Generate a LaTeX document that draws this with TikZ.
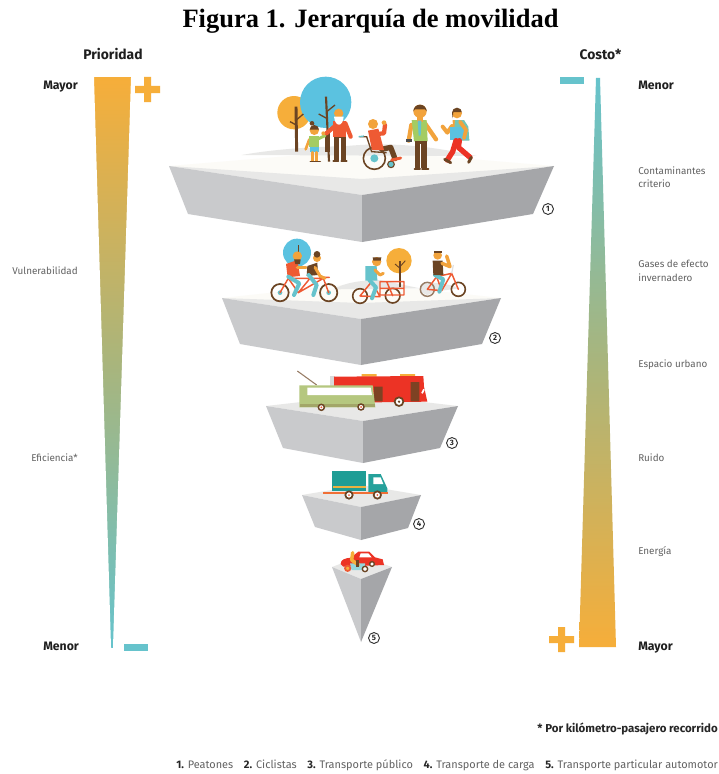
\documentclass[tikz,border=0pt]{standalone}
\usepackage{fontspec}
\setmainfont{Liberation Serif}
\newfontfamily\lab{Fira Sans}
\usetikzlibrary{calc}
\definecolor{grL}{HTML}{C9CACC}
\definecolor{grR}{HTML}{A5A6A9}
\definecolor{grB}{HTML}{E8E8E7}
\definecolor{topc}{HTML}{FCFBF7}
\definecolor{oran}{HTML}{F6AE3A}
\definecolor{teal}{HTML}{66C3CC}
\definecolor{mid}{HTML}{A9B57C}
\definecolor{sky}{HTML}{5BC2E0}
\definecolor{brn}{HTML}{6B4423}
\definecolor{redo}{HTML}{EE5A33}
\definecolor{redb}{HTML}{EC3325}
\definecolor{lime}{HTML}{A4CC62}
\definecolor{skin}{HTML}{F2A33C}
\definecolor{txt}{HTML}{626262}
\definecolor{olive}{HTML}{B5C77F}
\definecolor{truck}{HTML}{1E9D95}
\tikzset{
  px/.style={x=0.75pt,y=-0.75pt},
  z1/.style={shift={(160,70)},x=0.25pt,y=-0.25pt},
  z2/.style={shift={(220,230)},x=0.25pt,y=-0.25pt},
  z3/.style={shift={(290,460)},x=0.25pt,y=-0.25pt},
  heading/.style={font=\lab\bfseries\fontsize{9.2}{10}\selectfont,text=black!88,inner sep=0pt},
  bighead/.style={heading,font=\lab\bfseries\fontsize{10.4}{11}\selectfont},
  rowlabel/.style={font=\lab\fontsize{7.4}{10}\selectfont,text=txt,inner sep=0pt},
  num/.style={circle,draw=black!80,line width=.7pt,inner sep=0pt,minimum size=8.2pt,font=\lab\bfseries\fontsize{5.8}{6}\selectfont,text=black!85},
  limb/.style={line width=#1,line cap=round,line join=round},
  limb/.default=1.6pt,
  wheel/.style={draw=brn,line width=1.2pt},
  frame/.style={draw=redo,line width=1.1pt,line cap=round,line join=round},
}
\newcommand{\slab}[7]{%
  \fill[topc] (#1) -- (#7) -- (#6) -- (#3) -- cycle;
  \fill[grB] (#1) -- (#3) -- (#6) -- ($(#3)+(0,-16)$) -- cycle;
  \fill[grL] (#1) -- (#3) -- (#4) -- (#2) -- cycle;
  \fill[grR] (#6) -- (#3) -- (#4) -- (#5) -- cycle;
}
\begin{document}
\begin{tikzpicture}[px]
\useasboundingbox (0,0) rectangle (718,774);
\fill[white] (0,0) rectangle (718,774);

\node[font=\bfseries\fontsize{19.85}{22}\selectfont,inner sep=0pt,anchor=center] (title) at (370.5,21) {Figura 1. Jerarquía de movilidad};

% gradient wedges
\shade[top color=oran,bottom color=teal,middle color=mid] (93,78) rectangle (132,647);
\fill[white] (88,74) -- (94,74) -- (94,78) -- (111,647) -- (111,652) -- (88,652) -- cycle;
\fill[white] (137,74) -- (131,74) -- (131,78) -- (113,647) -- (113,652) -- (137,652) -- cycle;
\shade[top color=teal,bottom color=oran,middle color=mid] (596,78) -- (600,78) -- (616,647) -- (579,647) -- cycle;
% plus and minus signs
\fill[oran] (135,86) rectangle (160,93) (144,77) rectangle (151,102);
\fill[teal] (124,644) rectangle (148,651);
\fill[teal] (560,77) rectangle (584,84);
\fill[oran] (549,636) rectangle (574,643) (558,627) rectangle (565,652);

% headings
\node[bighead] (hp) at (113,54) {Prioridad};
\node[bighead] (hc) at (600.5,54) {Costo*};
\node[heading,anchor=west] (lma) at (43,86.5) {Mayor};
\node[heading,anchor=west] (lme) at (43,646) {Menor};
\node[heading,anchor=west] (rme) at (638,85) {Menor};
\node[heading,anchor=west] (rma) at (638,647.5) {Mayor};
\node[rowlabel,anchor=east] (vu) at (78,271) {Vulnerabilidad};
\node[rowlabel,anchor=east] (ef) at (78,458) {Eficiencia*};
\node[rowlabel,anchor=west,align=left] (cc) at (638,177.5) {Contaminantes\\criterio};
\node[rowlabel,anchor=west,align=left] (ge) at (638,271) {Gases de efecto\\invernadero};
\node[rowlabel,anchor=west] (eu) at (638,365) {Espacio urbano};
\node[rowlabel,anchor=west] (ru) at (638,458) {Ruido};
\node[rowlabel,anchor=west] (en) at (638,552) {Energía};

% slabs
\slab{169,166}{188,214}{362,195}{362,242}{533,214}{554,166}{362,150}
\slab{222,298}{240,344}{361,319}{361,365}{482,344}{501,298}{361,283}
\fill[grB] (266,406) -- (363,395) -- (458,406) -- (363,421) -- cycle;
\fill[grL] (266,406) -- (363,421) -- (363,463) -- (283,448) -- cycle;
\fill[grR] (458,406) -- (363,421) -- (363,463) -- (440,448) -- cycle;
\fill[grB] (302,495) -- (361,485) -- (421,495) -- (361,507) -- cycle;
\fill[grL] (302,495) -- (361,507) -- (361,540) -- (315,527) -- cycle;
\fill[grR] (421,495) -- (361,507) -- (361,540) -- (408,528) -- cycle;
\fill[grB] (332,567) -- (361,556) -- (392,567) -- (361,579) -- cycle;
\fill[grL] (332,567) -- (361,579) -- (361,642) -- cycle;
\fill[grR] (392,567) -- (361,579) -- (361,642) -- cycle;

\node[num] (n1) at (548,209) {1};
\node[num] (n2) at (495,338) {2};
\node[num] (n3) at (452,443) {3};
\node[num] (n4) at (419,524) {4};
\node[num] (n5) at (374,638) {5};

% ---------- scene 1: pedestrians
\begin{scope}[z1]
\fill[grB] (245,255) .. controls (330,240) and (420,232) .. (560,228) .. controls (700,215) and (820,230) .. (950,258) -- cycle;
\fill[oran] (402,128) circle (50);
\fill[sky] (497,97) circle (77);
% trees
\draw[brn,line width=2.2pt] (410,245) -- (408,110);
\draw[brn,line width=1pt] (409,165) -- (390,155) (409,150) -- (430,132);
\draw[brn,line width=1.6pt] (507,275) -- (498,80);
\draw[brn,line width=1pt] (500,145) -- (476,132) (500,125) -- (525,105);
\fill[brn] (494,190) -- (511,190) -- (511,245) -- (494,245) -- cycle;
% girl
\draw[limb=2.2pt,lime] (472,208) -- (495,197);
\draw[limb=2pt,skin] (448,208) -- (437,238);
\fill[lime] (448,199) -- (476,199) -- (476,232) -- (448,232) -- cycle;
\fill[sky] (450,230) rectangle (476,247);
\draw[limb=2pt,skin] (457,247) -- (457,272) (470,247) -- (470,272);
\draw[limb=1.2pt,brn] (451,275) -- (464,275) (467,275) -- (481,275);
\fill[skin] (463,181) circle (14);
\fill[brn] (449,179) arc (180:360:14) -- cycle;
\fill[brn] (456,160) circle (7);
% old man
\draw[limb=3.2pt,redo] (525,168) -- (499,190);
\draw[limb=3.2pt,redo] (556,160) -- (572,200);
\fill[skin] (490,190) circle (6);
\fill[brn] (522,195) rectangle (557,272);
\fill[white] (538,205) rectangle (542,272);
\draw[limb=1.3pt,brn] (520,274) -- (535,274) (544,274) -- (560,274);
\fill[redo] (518,153) -- (558,153) -- (558,200) -- (518,200) -- cycle;
\fill[skin] (536,130) circle (14);
\fill[white] (522,140) .. controls (525,172) and (549,172) .. (551,140) -- cycle;
% wheelchair
\draw[brn,line width=1pt] (598,200) -- (620,200) -- (635,245) -- (680,248);
\draw[teal,line width=.9pt] (596,200) -- (612,198);
\draw[wheel] (643,265) circle (33);
\fill[teal] (643,265) circle (12);
\draw[brn,line width=.8pt,fill=teal] (693,283) circle (10);
\draw[limb=4pt,brn] (665,238) -- (692,232) -- (705,266);
\draw[limb=2.2pt,redo] (695,270) -- (722,264);
\fill[redo] (624,182) -- (655,176) -- (672,240) -- (636,240) -- cycle;
\draw[limb=3.2pt,redo] (650,192) -- (672,190) -- (675,165);
\fill[skin] (672,158) circle (7);
\fill[skin] (639,162) circle (15);
% man
\draw[limb=3.2pt,skin] (754,165) -- (746,212);
\draw[limb=3.2pt,skin] (795,160) -- (828,208);
\fill[black!70] (738,207) rectangle (755,215);
\fill[lime] (755,150) -- (800,150) -- (803,214) -- (762,214) -- cycle;
\fill[skin] (770,140) rectangle (790,155);
\fill[teal] (773,152) -- (784,152) -- (782,197) -- (776,197) -- cycle;
\fill[brn] (764,212) rectangle (801,295);
\fill[white] (780,222) rectangle (784,295);
\draw[limb=1.5pt,brn] (764,298) -- (780,298) (786,298) -- (805,298);
\fill[skin] (780,124) circle (20);
\fill[brn] (760,124) arc (180:360:20) -- (795,118) -- (765,118) -- cycle;
% walker
\draw[limb=3pt,skin] (876,168) -- (862,188) -- (848,170);
\fill[skin] (878,150) -- (912,150) -- (928,210) -- (880,210) -- cycle;
\fill[teal!80!lime] (885,150) -- (912,150) -- (925,170) -- (928,212) -- (880,212) -- cycle;
\fill[sky] (870,170) rectangle (922,210);
\draw[limb=2.8pt,skin] (900,155) -- (918,180) -- (912,205);
\draw[limb=4pt,redb] (888,212) -- (878,245) -- (862,270);
\draw[limb=4pt,redb] (898,212) -- (895,232) -- (930,262);
\draw[limb=2.2pt,brn] (854,268) -- (872,278);
\draw[limb=2.2pt,brn] (934,262) -- (926,277);
\fill[skin] (891,130) circle (15);
\fill[brn] (876,128) arc (180:360:15) -- (905,126) -- (880,126) -- (878,145) -- cycle;
\end{scope}

% ---------- scene 2: cyclists
\begin{scope}[z2]
\fill[grB] (340,178) .. controls (370,160) and (420,150) .. (480,150) -- (600,175) -- cycle;
\fill[grB] (600,165) .. controls (640,152) and (680,160) .. (720,175) -- (600,190) -- cycle;
\fill[sky] (231,68) circle (42);
\draw[brn,line width=.6pt] (236,45) -- (236,100);
\fill[oran] (537,92) circle (38);
\draw[brn,line width=1.4pt] (540,170) -- (540,92);
\draw[brn,line width=.7pt] (540,115) -- (525,102) (540,110) -- (556,92);
% tandem
\draw[wheel,line width=1.3pt] (180,188) circle (26);
\draw[wheel,line width=1.3pt] (326,188) circle (26);
\fill[teal] (180,188) circle (7) (326,188) circle (7);
\draw[frame] (180,188) -- (205,145) -- (310,145) -- (326,188) (205,145) -- (235,188) -- (270,145) (235,188) -- (310,145) (300,142) -- (328,142);
% riders
\fill[redo] (198,102) -- (232,90) -- (240,138) -- (203,142) -- cycle;
\draw[limb=3pt,teal] (205,140) -- (238,160) -- (222,195);
\fill[skin] (232,78) circle (14);
\fill[brn] (222,88) -- (242,88) -- (240,102) -- (226,102) -- cycle;
\draw[limb=2.4pt,skin] (232,112) -- (258,112);
\fill[brn] (262,108) -- (292,98) -- (294,135) -- (260,138) -- cycle;
\draw[limb=3pt,teal] (266,135) -- (290,165) -- (280,195);
\fill[skin] (291,84) circle (12);
\fill[brn] (291,73) circle (10);
\draw[limb=2.2pt,skin] (285,112) -- (300,138) -- (315,145);
% cargo bike
\draw[wheel] (420,198) circle (22);
\draw[wheel] (518,197) circle (22);
\draw[frame] (420,198) -- (455,155) -- (480,200) -- (420,198) (480,155) rectangle (552,195) (480,175) -- (552,175) (518,197) -- (500,155);
\draw[limb=3pt,teal] (448,150) -- (468,172) -- (456,205);
\fill[teal] (436,108) -- (470,108) -- (472,152) -- (436,152) -- cycle;
\draw[limb=2.2pt,skin] (465,120) -- (480,135) -- (490,130);
\fill[skin] (470,95) circle (14);
\fill[brn] (458,82) -- (484,82) -- (482,92) -- (460,92) -- cycle;
% third bike
\draw[line width=1.1pt,draw=brn!70] (622,178) circle (21);
\draw[wheel] (715,178) circle (21);
\fill[grB] (622,178) circle (17);
\draw[frame] (622,178) -- (650,140) -- (695,130) -- (715,178) (650,140) -- (665,182) -- (695,130) (622,178) -- (665,182);
\draw[line width=.9pt,draw=black!12] (695,130) -- (700,105);
\draw[limb=3pt,teal] (645,135) -- (670,148) -- (658,185);
\fill[brn] (638,92) -- (668,92) -- (670,135) -- (640,135) -- cycle;
\fill[skin] (653,76) circle (13);
\fill[brn] (641,62) rectangle (666,70);
\draw[limb=2.6pt,skin] (666,100) -- (690,110) -- (680,78);
\end{scope}

% ---------- scene 3: buses
\begin{scope}[z2]
\fill[oran] (425,432) rectangle (470,440) (540,432) rectangle (585,440);
\fill[black!15] (330,438) rectangle (345,470);
\fill[redb] (342,440) -- (610,438) -- (612,470) -- (622,515) -- (465,517) -- (342,470) -- cycle;
\fill[brn!85!redb] (462,470) rectangle (488,514) (572,456) rectangle (598,514);
\draw[white,line width=1.4pt] (612,478) -- (606,490);
\draw[brn,line width=1.3pt,fill=white] (537,515) circle (13);
\fill[brn] (537,515) circle (4);
\draw[brn!70,line width=.8pt] (232,423) -- (290,465);
\fill[olive] (238,466) -- (458,466) -- (466,532) -- (238,532) -- cycle;
\fill[white] (262,473) -- (452,473) -- (456,495) -- (262,495) -- cycle;
\fill[olive!75!brn] (240,523) rectangle (466,532);
\draw[brn,line width=1.1pt,fill=white] (304,532) circle (9);
\fill[redo] (304,532) circle (3);
\draw[brn,line width=1.1pt,fill=white] (423,531) circle (9);
\fill[redo] (423,531) circle (3);
\end{scope}

% ---------- scene 4: truck
\begin{scope}[z3]
\fill[truck] (125,32) rectangle (228,92);
\fill[oran!85!lime] (128,79) rectangle (228,85);
\fill[truck!90!teal] (235,42) -- (272,42) -- (292,85) -- (292,97) -- (235,97) -- cycle;
\fill[white] (250,52) -- (272,52) -- (280,72) -- (250,72) -- cycle;
\fill[redo!75!oran] (100,95) rectangle (294,103);
\draw[brn,line width=1.3pt,fill=white] (177,105) circle (11);
\fill[redo] (177,105) circle (3);
\draw[brn,line width=1.3pt,fill=white] (262,105) circle (11);
\fill[redo] (262,105) circle (3);
\end{scope}

% ---------- scene 5: car and motorbike
\begin{scope}[z3]
\fill[redb] (152,312) .. controls (152,298) and (165,295) .. (182,293) -- (205,275) -- (238,275) -- (255,292) -- (278,298) -- (282,315) -- (160,320) -- cycle;
\fill[white] (212,280) -- (235,280) -- (245,292) -- (208,292) -- cycle;
\draw[brn,line width=1pt,fill=white] (246,312) circle (7);
\fill[teal!70] (180,310) -- (225,310) -- (225,330) -- (185,330) -- cycle;
\draw[limb=2.6pt,oran] (188,278) -- (185,300) -- (205,315);
\fill[brn] (198,300) rectangle (206,320);
\draw[redo,line width=1.3pt,fill=oran] (173,325) circle (8);
\draw[brn,line width=1pt,fill=white] (225,327) circle (8);
\end{scope}

% notes
\node[font=\lab\bfseries\fontsize{8.6}{10}\selectfont,text=black!85,inner sep=0pt,anchor=east] (note) at (718,729) {* Por kilómetro-pasajero recorrido};
\node[font=\lab\fontsize{8.2}{10}\selectfont,text=txt,inner sep=0pt,anchor=west] (leg) at (176,765) {{\bfseries\color{black!85}1.} Peatones\hspace{8pt}{\bfseries\color{black!85}2.} Ciclistas\hspace{8pt}{\bfseries\color{black!85}3.} Transporte público\hspace{8pt}{\bfseries\color{black!85}4.} Transporte de carga\hspace{8pt}{\bfseries\color{black!85}5.} Transporte particular automotor};
\end{tikzpicture}
\end{document}
